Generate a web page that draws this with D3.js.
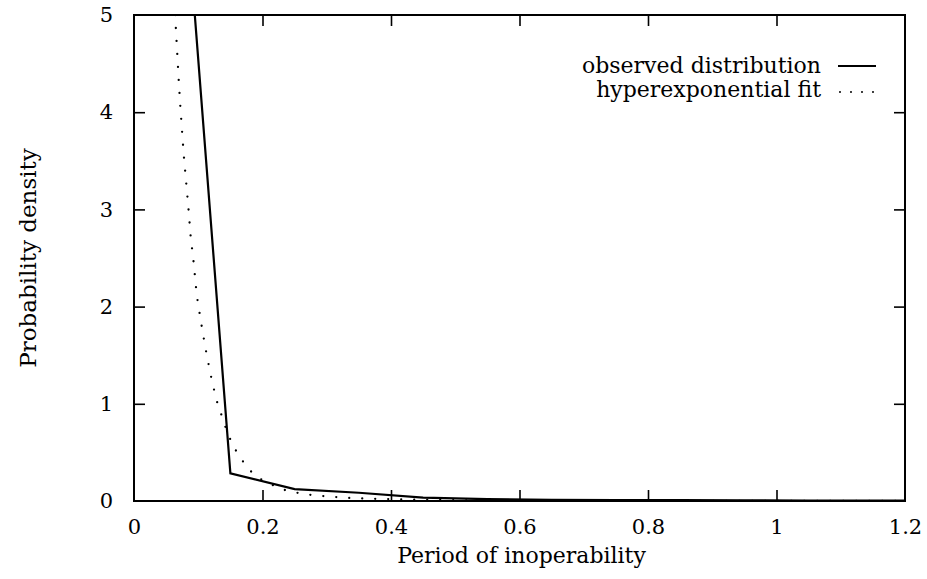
<!DOCTYPE html>
<html><head><meta charset="utf-8">
<script src="https://cdn.jsdelivr.net/npm/d3@7"></script>
<style>body{margin:0;background:#fff}svg{display:block}text{font-family:"DejaVu Serif","Liberation Serif",serif;fill:#000}</style>
</head><body>
<svg id="c" width="927" height="579"></svg>
<script>
// observed distribution (histogram bin centres)
const obsX = [0.05, 0.15, 0.25, 0.35, 0.45, 0.55, 0.65, 0.75, 0.85, 0.95, 1.05, 1.15, 1.25];
const obsY = [8.8, 0.285, 0.123, 0.085, 0.035, 0.02, 0.013, 0.01, 0.008, 0.006, 0.005, 0.004, 0.003];
// hyperexponential fit
const fitX = [0.064, 0.0696, 0.0721, 0.0773, 0.0809, 0.0845, 0.0882, 0.0929, 0.0976, 0.1043, 0.111, 0.1188, 0.128, 0.1427, 0.1536, 0.1645, 0.176, 0.19, 0.2268, 0.2465, 0.267, 0.287, 0.3077, 0.328, 0.3486, 0.39, 0.45, 0.5, 0.6, 0.8, 1.0, 1.2];
const fitY = [5.0, 4.33, 4.06, 3.57, 3.30, 3.03, 2.72, 2.45, 2.12, 1.84, 1.58, 1.314, 1.046, 0.754, 0.573, 0.456, 0.347, 0.25, 0.127, 0.093, 0.069, 0.055, 0.044, 0.034, 0.028, 0.02, 0.013, 0.008, 0.003, 0.001, 0.0003, 0.0001];
const xTicks = [0, 0.2, 0.4, 0.6, 0.8, 1, 1.2];
const yTicks = [0, 1, 2, 3, 4, 5];
const legendLabels = ["observed distribution", "hyperexponential fit"];

const svg = d3.select("#c");
const L = 134, R = 905, T = 15, B = 501;
const x = d3.scaleLinear().domain([0, 1.2]).range([L, R]);
const y = d3.scaleLinear().domain([0, 5]).range([B, T]);
const fs = 21, fl = 22;

svg.append("defs").append("clipPath").attr("id", "clip")
  .append("rect").attr("x", L).attr("y", T).attr("width", R - L).attr("height", B - T);

// axes with inward ticks (mirrored)
const tl = 11;
const gB = svg.append("g").attr("transform", `translate(0,${B})`)
  .call(d3.axisBottom(x).tickValues(xTicks).tickSize(-tl).tickPadding(18).tickFormat(d => String(d)));
const gT = svg.append("g").attr("transform", `translate(0,${T})`)
  .call(d3.axisTop(x).tickValues(xTicks).tickSize(-tl).tickFormat(""));
const gL = svg.append("g").attr("transform", `translate(${L},0)`)
  .call(d3.axisLeft(y).tickValues(yTicks).tickSize(-tl).tickPadding(21).tickFormat(d3.format("d")));
const gR = svg.append("g").attr("transform", `translate(${R},0)`)
  .call(d3.axisRight(y).tickValues(yTicks).tickSize(-tl).tickFormat(""));
[gB, gT, gL, gR].forEach(g => {
  g.select(".domain").remove();
  g.selectAll(".tick line").attr("stroke", "#000").attr("stroke-width", 1.6);
  g.selectAll("text").style("font-size", fs + "px").attr("font-family", null);
});
gB.selectAll(".tick text").attr("dy", "0.71em");
// remove ticks that coincide with frame corners
gB.selectAll(".tick").filter(d => d === 0 || d === 1.2).select("line").remove();
gT.selectAll(".tick").filter(d => d === 0 || d === 1.2).select("line").remove();
gL.selectAll(".tick").filter(d => d === 0 || d === 5).select("line").remove();
gR.selectAll(".tick").filter(d => d === 0 || d === 5).select("line").remove();

svg.append("rect").attr("x", L).attr("y", T).attr("width", R - L).attr("height", B - T)
  .attr("fill", "none").attr("stroke", "#000").attr("stroke-width", 2);

const line = d3.line().x(d => x(d[0])).y(d => y(d[1]));
const plot = svg.append("g").attr("clip-path", "url(#clip)");
plot.append("path").datum(fitX.map((v, i) => [v, fitY[i]]))
  .attr("d", line).attr("fill", "none").attr("stroke", "#000").attr("stroke-width", 2.3)
  .attr("stroke-linecap", "round").attr("stroke-dasharray", "0 13");
plot.append("path").datum(obsX.map((v, i) => [v, obsY[i]]))
  .attr("d", line).attr("fill", "none").attr("stroke", "#000").attr("stroke-width", 2.2);

// legend
const lg = svg.append("g");
lg.append("text").attr("x", 821).attr("y", 73).attr("text-anchor", "end").style("font-size", fl + "px").text(legendLabels[0]);
lg.append("line").attr("x1", 838).attr("x2", 876).attr("y1", 66).attr("y2", 66).attr("stroke", "#000").attr("stroke-width", 2.2);
lg.append("text").attr("x", 821).attr("y", 97).attr("text-anchor", "end").style("font-size", fl + "px").text(legendLabels[1]);
lg.append("line").attr("x1", 840).attr("x2", 876).attr("y1", 92).attr("y2", 92).attr("stroke", "#000").attr("stroke-width", 2)
  .attr("stroke-linecap", "round").attr("stroke-dasharray", "0 11");

// axis titles
svg.append("text").attr("x", (L + R) / 2 + 2).attr("y", 563).attr("text-anchor", "middle").style("font-size", fl + "px").text("Period of inoperability");
svg.append("text").attr("transform", "translate(36,258) rotate(-90)").attr("text-anchor", "middle").style("font-size", "23px").text("Probability density");
</script>
</body></html>
